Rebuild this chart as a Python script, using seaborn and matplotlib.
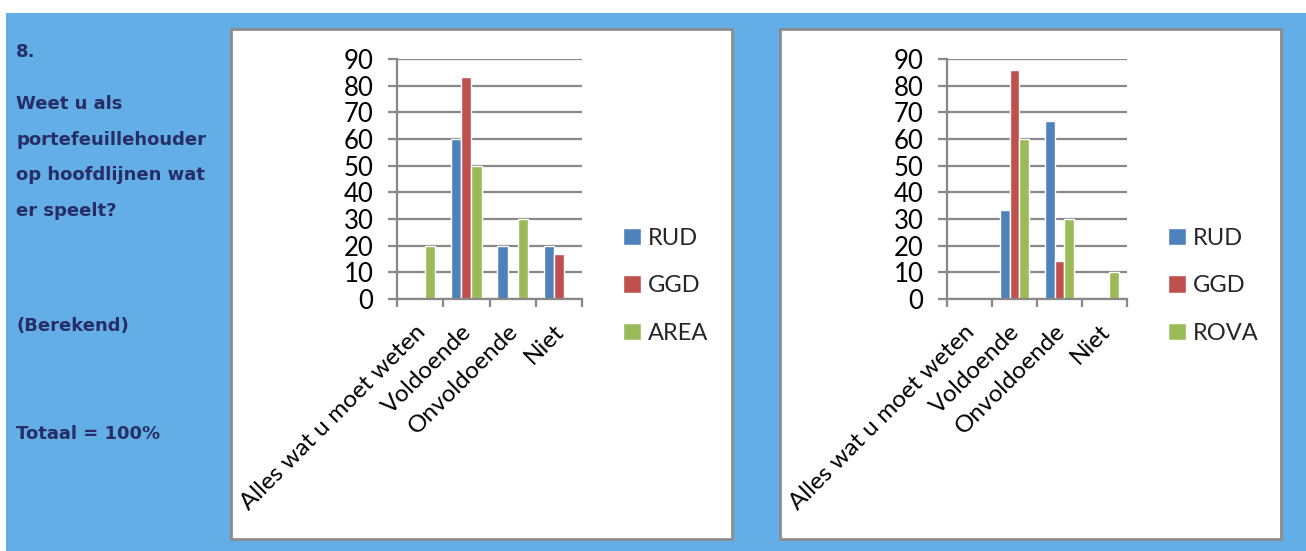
import matplotlib
matplotlib.use("Agg")
import matplotlib.pyplot as plt
from matplotlib.patches import Rectangle
import matplotlib.transforms as mtransforms
import seaborn as sns
import pandas as pd

categories = ["Alles wat u moet weten", "Voldoende", "Onvoldoende", "Niet"]

left_series = ["RUD", "GGD", "AREA"]
left_rud = [0, 60, 20, 20]
left_ggd = [0, 83.3, 0, 16.7]
left_area = [20, 50, 30, 0]

right_series = ["RUD", "GGD", "ROVA"]
right_rud = [0, 33.3, 66.7, 0]
right_ggd = [0, 85.7, 14.3, 0]
right_rova = [0, 60, 30, 10]

y_ticks = [0, 10, 20, 30, 40, 50, 60, 70, 80, 90]

side_lines = ["8.", "Weet u als", "portefeuillehouder", "op hoofdlijnen wat",
              "er speelt?", "(Berekend)", "Totaal = 100%"]
side_y = [52, 104, 140, 175, 211, 326, 434]

colors = ["#4F81BD", "#C0504D", "#9BBB59"]
BG = "#63AEE6"
TXT = "#272D66"
GRID = "#888888"

sns.set_theme(style="white")
plt.rcParams["font.family"] = ["Lato", "DejaVu Sans"]

W, H = 1306, 551
fig = plt.figure(figsize=(W / 100, H / 100), dpi=100)
fig.patch.set_facecolor("white")


def fx(px):
    return px / W


def fy(py):
    return 1 - py / H


# blue background
fig.patches.append(Rectangle((fx(6), 0), 1 - fx(6), fy(13), transform=fig.transFigure,
                             facecolor=BG, edgecolor="none", zorder=-10))
# white panels
for x0, x1 in [(231, 732), (780, 1281)]:
    fig.patches.append(Rectangle((fx(x0), fy(539)), fx(x1 - x0), (539 - 29) / H,
                                 transform=fig.transFigure, facecolor="white",
                                 edgecolor="#8C8C8C", linewidth=2, zorder=-5))

for s, y in zip(side_lines, side_y):
    fig.text(fx(16), fy(y), s, fontsize=13, fontweight="bold", color=TXT,
             family=["DejaVu Sans"], va="center", ha="left")


def draw(ax, series, values, leg_x):
    rows = []
    for name, vals in zip(series, values):
        for c, v in zip(categories, vals):
            rows.append({"cat": c, "val": v, "series": name})
    df = pd.DataFrame(rows)
    sns.barplot(data=df, x="cat", y="val", hue="series", order=categories,
                hue_order=series, palette=colors, saturation=1, width=0.66,
                ax=ax, errorbar=None, gap=0)
    ax.set_facecolor("none")
    ax.set_ylim(0, 90)
    ax.set_xlim(-0.5, 3.5)
    ax.set_yticks(y_ticks)
    ax.set_yticklabels([str(t) for t in y_ticks], fontsize=18.5, color="black")
    ax.yaxis.grid(True, color=GRID, linewidth=1.6)
    ax.set_axisbelow(True)
    ax.set_xlabel("")
    ax.set_ylabel("")
    # category labels as rotated texts placed at the category positions
    ax.set_xticks([-0.5, 0.5, 1.5, 2.5, 3.5])
    ax.set_xticklabels([])
    ax.tick_params(axis="x", length=6, width=1.6, color=GRID,
                   direction="out", bottom=True)
    off = mtransforms.ScaledTranslation(-0.055, -0.22, fig.dpi_scale_trans)
    for i, c in enumerate(categories):
        ax.text(i, 0, c, transform=ax.get_xaxis_transform() + off, rotation=45,
                ha="right", va="top", rotation_mode="anchor", fontsize=17.5,
                color="black", clip_on=False)
    ax.tick_params(axis="y", length=6.5, width=1.6, color=GRID, direction="out",
                   left=True, pad=10.5)
    for side in ["top", "right"]:
        ax.spines[side].set_visible(False)
    for side in ["left", "bottom"]:
        ax.spines[side].set_color(GRID)
        ax.spines[side].set_linewidth(1.6)
    h, l = ax.get_legend_handles_labels()
    if ax.get_legend() is not None:
        ax.get_legend().remove()
    ax.legend(h, l, loc="center left", bbox_to_anchor=(leg_x, 0.055),
              frameon=False, fontsize=17, handlelength=0.75, handleheight=0.75,
              handletextpad=0.3, labelspacing=1.12, borderaxespad=0)


axL = fig.add_axes([fx(397), fy(299), fx(582 - 397), (299 - 59) / H])
draw(axL, left_series, [left_rud, left_ggd, left_area], (614 - 397) / (582 - 397))

axR = fig.add_axes([fx(947), fy(299), fx(1127 - 947), (299 - 59) / H])
draw(axR, right_series, [right_rud, right_ggd, right_rova], (1159 - 947) / (1127 - 947))

fig.savefig("out.png", dpi=100)
